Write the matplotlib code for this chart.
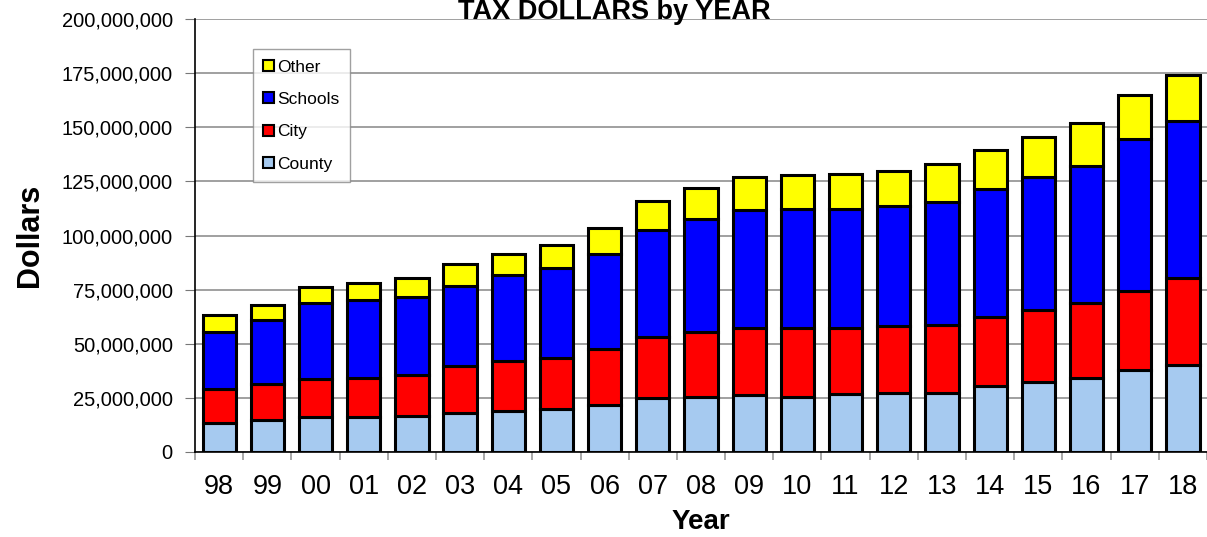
import numpy as np
from matplotlib import pyplot as plt
from matplotlib.ticker import FuncFormatter, FixedLocator

plt.rcParams['font.family'] = ['Liberation Sans', 'DejaVu Sans']

years = ['98', '99', '00', '01', '02', '03', '04', '05', '06', '07', '08',
         '09', '10', '11', '12', '13', '14', '15', '16', '17', '18']
# cumulative tops (millions)
county_top = [13.6, 14.8, 16.2, 16.2, 16.5, 18.2, 19.1, 19.7, 21.9, 25.0, 25.6,
              26.1, 25.4, 27.0, 27.3, 27.4, 30.5, 32.4, 34.4, 37.8, 40.1]
city_top = [29.0, 31.6, 33.9, 34.4, 35.5, 39.6, 41.8, 43.6, 47.5, 52.9, 55.4,
            57.1, 57.4, 57.4, 58.4, 58.6, 62.5, 65.5, 68.9, 74.5, 80.2]
schools_top = [55.5, 61.2, 68.6, 70.2, 71.4, 76.8, 81.6, 85.1, 91.3, 102.5, 107.6,
               111.8, 112.1, 112.1, 113.8, 115.7, 121.7, 126.8, 132.3, 144.5, 153.1]
other_top = [63.2, 67.8, 76.0, 78.2, 80.6, 86.7, 91.4, 95.6, 103.5, 116.0, 122.1,
             127.2, 128.0, 128.5, 129.8, 133.2, 139.3, 145.7, 151.9, 165.0, 174.3]

county = np.array(county_top) * 1e6
city = (np.array(city_top) - np.array(county_top)) * 1e6
schools = (np.array(schools_top) - np.array(city_top)) * 1e6
other = (np.array(other_top) - np.array(schools_top)) * 1e6

fig = plt.figure(figsize=(12.07, 5.37), dpi=100)
ax = fig.add_axes([0.1616, 0.1583, 0.8384, 0.8063])

x = np.arange(len(years))
w = 0.69
kw = dict(width=w, edgecolor='black', linewidth=2.2, zorder=3)
b1 = ax.bar(x, county, color='#A6CAF0', label='County', **kw)
b2 = ax.bar(x, city, bottom=county, color='#FF0000', label='City', **kw)
b3 = ax.bar(x, schools, bottom=county + city, color='#0000FF', label='Schools', **kw)
b4 = ax.bar(x, other, bottom=county + city + schools, color='#FFFF00', label='Other', **kw)

ax.set_xlim(-0.5, len(years) - 0.5)
ax.set_ylim(0, 200e6)
ax.set_yticks(np.arange(0, 200e6 + 1, 25e6))
ax.yaxis.set_major_formatter(FuncFormatter(lambda v, p: f'{int(v):,}'))
ax.yaxis.grid(True, color='#999999', linewidth=1.3, zorder=0)
ax.set_axisbelow(True)

ax.set_xticks(x)
ax.set_xticklabels(years, fontsize=19.5)
ax.xaxis.set_minor_locator(FixedLocator(np.arange(-0.5, len(years), 1.0)))
ax.tick_params(axis='x', which='major', length=0, pad=16)
ax.tick_params(axis='x', which='minor', length=6, color='#999999', width=1.2)
ax.tick_params(axis='y', labelsize=14.5, length=7, color='#777777', pad=9)

for s in ['top', 'right']:
    ax.spines[s].set_visible(False)
ax.spines['left'].set_linewidth(1.2)
ax.spines['bottom'].set_linewidth(1.2)

ax.set_xlabel('Year', fontsize=20, fontweight='bold', labelpad=6)
ax.set_ylabel('Dollars', fontsize=22, fontweight='bold', labelpad=12)

# title sits right at the top edge, as in the original
fig.text(0.509, 1 - 19 / 537, 'TAX DOLLARS by YEAR', fontsize=19.5, fontweight='bold',
         ha='center', va='baseline')

leg = ax.legend(handles=[b4, b3, b2, b1], loc='upper left',
                bbox_to_anchor=(0.057, 0.93), fontsize=12.5, frameon=True, fancybox=False,
                edgecolor='#888888', borderpad=0.6, labelspacing=1.0,
                handlelength=0.6, handleheight=0.6, handletextpad=0.2, borderaxespad=0)
leg.get_frame().set_linewidth(1.0)
for h in leg.legend_handles:
    h.set_linewidth(1.5)

fig.savefig('out.png', dpi=100)
